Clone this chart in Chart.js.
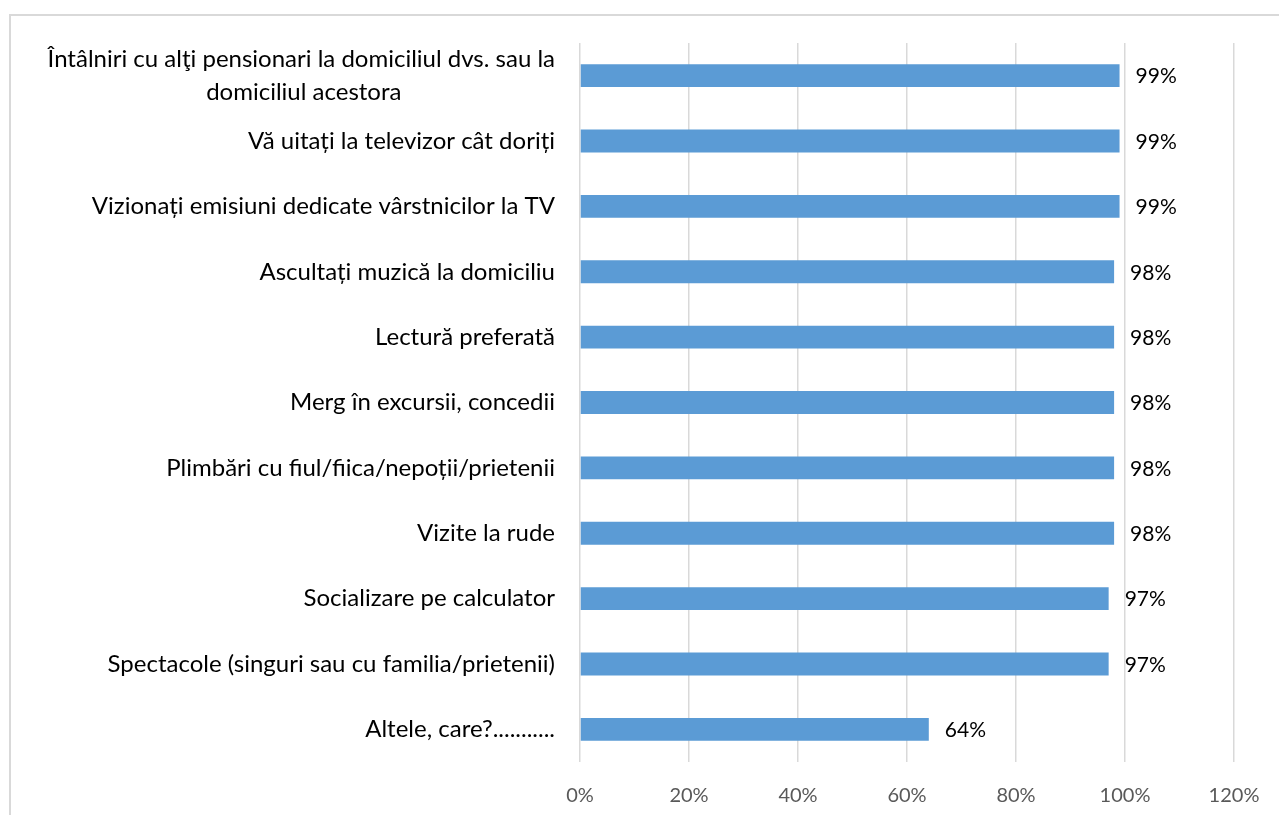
<!DOCTYPE html>
<html>
<head>
<meta charset="utf-8">
<script src="https://cdn.jsdelivr.net/npm/chart.js@4"></script>
<style>
    body { margin: 0; background: #ffffff; overflow: hidden; }
    #frame { position: absolute; left: 9px; top: 14px; width: 1400px; height: 900px; border: 2px solid #d9d9d9; }
    #box { position: absolute; left: 0; top: 0; width: 1279px; height: 815px; }
</style>
</head>
<body>
<div id="frame"></div>
<div id="box"><canvas id="activityChart"></canvas></div>
<script>
// Categories and values (percent), top to bottom
const activities = [
    ['Întâlniri cu alţi pensionari la domiciliul dvs. sau la', 'domiciliul acestora'],
    'Vă uitați la televizor cât doriți',
    'Vizionați emisiuni dedicate vârstnicilor la TV',
    'Ascultați muzică la domiciliu',
    'Lectură preferată',
    'Merg în excursii, concedii',
    'Plimbări cu fiul/fiica/nepoții/prietenii',
    'Vizite la rude',
    'Socializare pe calculator',
    'Spectacole (singuri sau cu familia/prietenii)',
    'Altele, care?...........'
];
const shares = [99, 99, 99, 98, 98, 98, 98, 98, 97, 97, 64];
const axisMax = 120;
const axisStep = 20;

const fontFamily = 'Lato, "Open Sans", sans-serif';
const labelSize = 24;

// measure text so multi-line labels can be centred on their longest line
const measureCtx = document.createElement('canvas').getContext('2d');
measureCtx.font = labelSize + 'px ' + fontFamily;
function centreLines(label) {
    if (!Array.isArray(label)) return label;
    const widest = Math.max(...label.map(l => measureCtx.measureText(l).width));
    const nbsp = measureCtx.measureText('\u00a0').width;
    return label.map(l => {
        const gap = (widest - measureCtx.measureText(l).width) / 2;
        return l + '\u00a0'.repeat(Math.round(gap / nbsp));
    });
}

// Small plugin drawing the value labels right of each bar
const valueLabels = {
    id: 'valueLabels',
    afterDatasetsDraw(chart) {
        const ctx = chart.ctx;
        const meta = chart.getDatasetMeta(0);
        ctx.save();
        ctx.font = '21px ' + fontFamily;
        ctx.fillStyle = '#000000';
        ctx.textAlign = 'left';
        ctx.textBaseline = 'middle';
        meta.data.forEach((bar, i) => {
            ctx.fillText(shares[i] + '%', bar.x + 16, bar.y + 1);
        });
        ctx.restore();
    }
};

document.fonts.load(labelSize + 'px Lato').then(() => {
    measureCtx.font = labelSize + 'px ' + fontFamily;

    const ctx = document.getElementById('activityChart').getContext('2d');
    const activityChart = new Chart(ctx, {
        type: 'bar',
        data: {
            labels: activities,
            datasets: [{
                data: shares,
                backgroundColor: '#5b9bd5',
                barPercentage: 0.35,
                categoryPercentage: 1.0
            }]
        },
        options: {
            indexAxis: 'y',
            responsive: true,
            maintainAspectRatio: false,
            animation: false,
            layout: {
                padding: { left: 0, right: 45, top: 43, bottom: 7 }
            },
            plugins: {
                legend: { display: false },
                tooltip: { enabled: false }
            },
            scales: {
                x: {
                    min: 0,
                    max: axisMax,
                    grid: { color: '#d9d9d9', lineWidth: 1.5, drawTicks: false },
                    border: { display: false },
                    afterFit: scale => {
                        scale.height = 46;
                        scale.paddingLeft = 0;
                        scale.paddingRight = 0;
                    },
                    ticks: {
                        stepSize: axisStep,
                        padding: 22,
                        color: '#595959',
                        font: { family: fontFamily, size: 20 },
                        callback: v => v + '%'
                    }
                },
                y: {
                    grid: { display: false, drawTicks: false },
                    border: { display: false },
                    afterFit: scale => {
                        scale.width = 580;
                        scale.paddingTop = 0;
                        scale.paddingBottom = 0;
                    },
                    ticks: {
                        padding: 25,
                        color: '#000000',
                        font: { family: fontFamily, size: labelSize, lineHeight: 1.35 },
                        autoSkip: false,
                        callback: function (value) {
                            return centreLines(this.getLabelForValue(value));
                        }
                    }
                }
            }
        },
        plugins: [valueLabels]
    });
});
</script>
</body>
</html>
